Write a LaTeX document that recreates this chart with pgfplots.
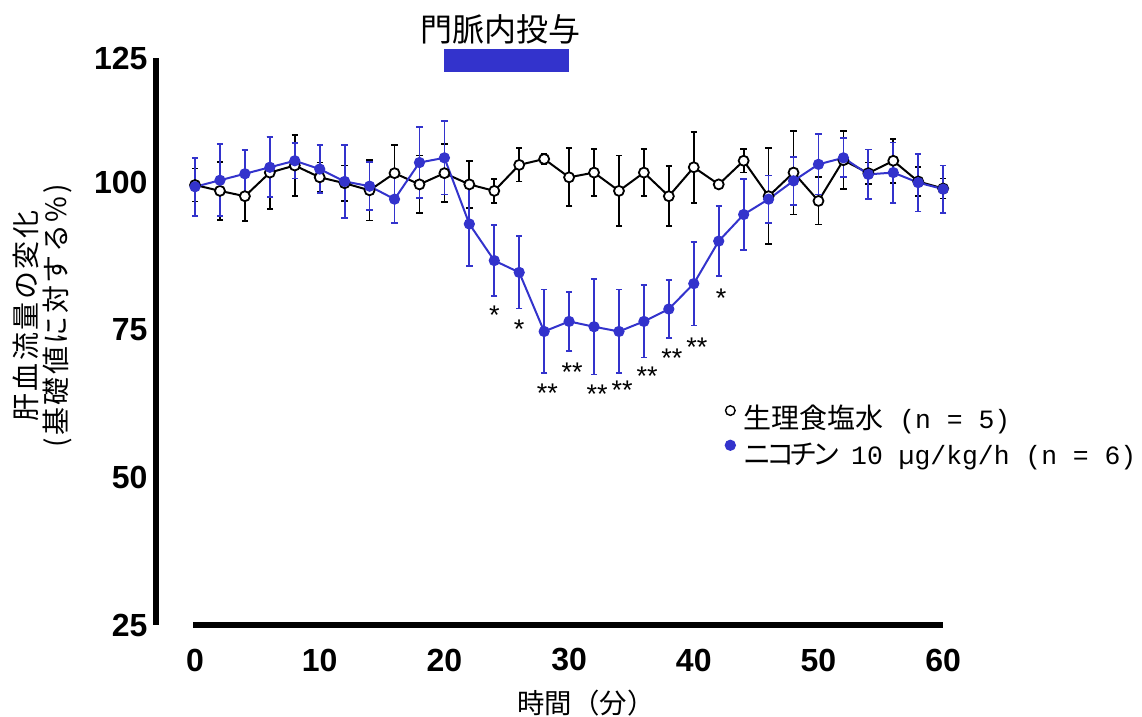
\documentclass[border=0pt]{standalone}
\usepackage{fontspec}
\setmainfont{Liberation Sans}
\setmonofont{Liberation Mono}
\newfontfamily\cjk{Noto Sans CJK JP}
\newfontfamily\cjkwide[LetterSpace=9]{Noto Sans CJK JP}
\newfontfamily\cjknarrow[LetterSpace=-18]{Noto Sans CJK JP}
\usepackage{pgfplots}
\usepackage{pgfplotstable}
\pgfplotsset{compat=1.18}
\definecolor{nicblue}{RGB}{51,51,204}

% saline (n = 5): time, mean, error
\pgfplotstableread{
t y e
0 99.5 2.8
2 98.5 4.9
4 97.6 4.2
6 101.6 6.1
8 102.8 5.1
10 100.8 2.5
12 99.8 3.0
14 98.6 5.1
16 101.5 4.8
18 99.6 4.9
20 101.5 4.9
22 99.6 4.0
24 98.5 2.0
26 102.9 2.8
28 103.9 0.8
30 100.8 4.9
32 101.6 4.0
34 98.5 6.0
36 101.6 4.0
38 97.6 5.1
40 102.5 6.0
42 99.6 0.6
44 103.6 2.0
46 97.6 8.1
48 101.6 7.1
50 96.8 4.0
52 103.7 4.9
54 101.5 1.8
56 103.6 3.7
58 100.1 2.4
60 98.9 1.7
}\saline

% nicotine 10 ug/kg/h (n = 6)
\pgfplotstableread{
t y e
0 99.2 4.9
2 100.3 6.1
4 101.4 4.0
6 102.5 5.1
8 103.6 3.0
10 102.2 4.1
12 100.1 6.2
14 99.3 4.1
16 97.1 4.0
18 103.3 6.0
20 104.1 6.2
22 92.9 7.1
24 86.7 6.0
26 84.7 6.1
28 74.7 7.1
30 76.4 5.0
32 75.5 8.1
34 74.7 7.1
36 76.4 6.1
38 78.5 4.9
40 82.8 7.1
42 90.0 5.9
44 94.5 6.0
46 97.1 4.0
48 100.2 4.1
50 103.0 5.1
52 104.1 3.3
54 101.3 4.2
56 101.6 5.1
58 99.9 4.9
60 98.8 4.0
}\nicotine

\begin{document}
\begin{tikzpicture}
\useasboundingbox (-78pt,-46pt) rectangle (493pt,312.5pt);
\begin{axis}[
    at={(0,0)}, anchor=south west,
    scale only axis, width=396.7pt, height=283.5pt,
    xmin=-3.13, xmax=60.5, ymin=25, ymax=121,
    clip=false,
    axis x line*=bottom, axis y line*=left,
    x axis line style={draw=none},
    y axis line style={-, line width=2.8pt},
    major tick length=0pt,
    xtick={0,10,...,60},
    ytick={25,50,75,100,121},
    yticklabels={25,50,75,100,125},
    ticklabel style={font=\fontsize{16}{16}\selectfont\bfseries},
    /pgf/number format/assume math mode=true,
    xticklabel style={anchor=center, yshift=-17.5pt},
    yticklabel style={anchor=east, xshift=-0.7pt},
    legend style={at={(axis cs:42.45,57.0)}, anchor=west, draw=none, fill=none,
        inner sep=0pt, row sep=4.1pt, nodes={inner sep=0pt},
        font=\cjk\fontsize{14}{16}\selectfont,
        /tikz/every odd column/.style={column sep=3.8pt}},
    legend cell align=left,
]

\addplot[black, line width=1pt, mark=*, mark size=2.5pt,
    mark options={fill=white, line width=0.9pt},
    legend image code/.code={\draw[black, line width=0.7pt, fill=white] (2.6pt,3.8pt) circle (2.4pt);},
    error bars/.cd, y dir=both, y explicit,
    error bar style={line width=0.9pt},
    error mark options={rotate=90, mark size=1.6pt, line width=0.9pt}]
    table[x=t, y=y, y error=e] {\saline};
\addlegendentry{生理食塩水\texttt{\fontsize{13.2}{16}\selectfont{} (n = 5)}}

\addplot[nicblue, line width=1pt, mark=*, mark size=2.5pt,
    mark options={fill=nicblue, line width=0.6pt},
    legend image code/.code={\fill[nicblue] (2.6pt,4.8pt) circle (2.3pt);},
    error bars/.cd, y dir=both, y explicit,
    error bar style={line width=0.9pt},
    error mark options={rotate=90, mark size=1.6pt, line width=0.9pt}]
    table[x=t, y=y, y error=e] {\nicotine};
\addlegendentry{{\cjknarrow ニコチン}\texttt{\fontsize{13.2}{16}\selectfont{} 10 µg/kg/h (n = 6)}}

% offset x axis line
\draw[line width=2.8pt] (axis cs:-0.16,25) -- (axis cs:60,25);

% infusion period
\fill[nicblue] (axis cs:20,118.64) rectangle (axis cs:30,122.54);
\node[font=\cjk\fontsize{16}{16}\selectfont] at (axis cs:24.46,125.9) {門脈内投与};

% axis titles
\node[font=\cjk\fontsize{13.7}{14}\selectfont] at (axis cs:31.35,11.86) {時間（分）};
\node[font=\cjkwide\fontsize{14}{15}\selectfont, rotate=90, align=center]
    at (axis cs:-12.27,77.3) {肝血流量の変化\\(基礎値に対する\%)};

% significance marks
\begin{scope}[every node/.style={font=\fontsize{13.5}{13.5}\selectfont, anchor=base, yshift=-7.7pt, inner sep=0pt}]
\node at (axis cs:24,78.47) {*};
\node at (axis cs:26,76.1) {*};
\node at (axis cs:28.25,65.25) {**};
\node at (axis cs:30.25,68.8) {**};
\node at (axis cs:32.25,65.1) {**};
\node at (axis cs:34.25,65.8) {**};
\node at (axis cs:36.25,68.1) {**};
\node at (axis cs:38.25,71.2) {**};
\node at (axis cs:40.25,73.05) {**};
\node at (axis cs:42.2,81.4) {*};
\end{scope}

\end{axis}
\end{tikzpicture}
\end{document}
